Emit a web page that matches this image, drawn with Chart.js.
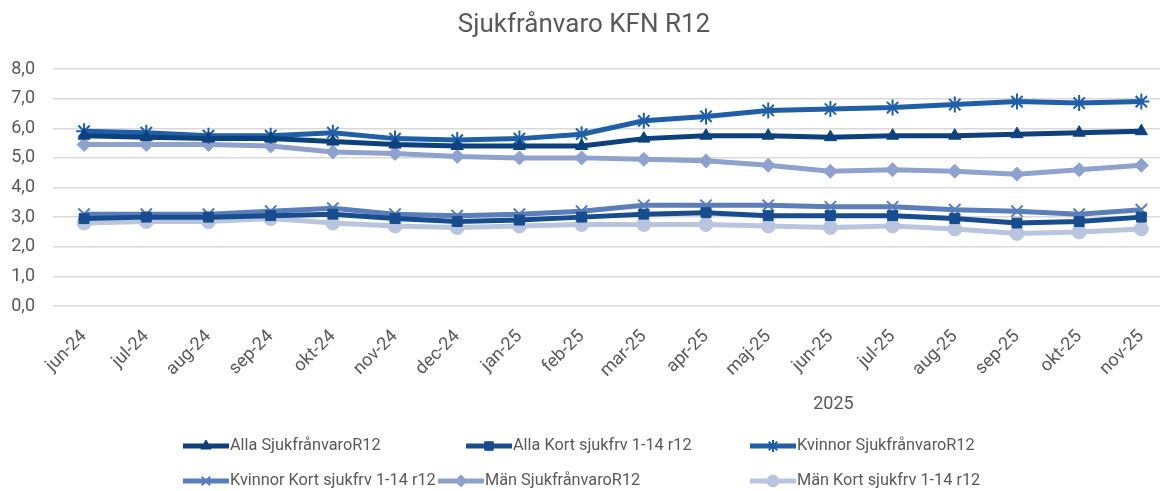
<!DOCTYPE html>
<html lang="sv">
<head>
<meta charset="UTF-8">
<title>Sjukfrånvaro KFN R12</title>
<style>
  html, body { margin: 0; padding: 0; background: #fff; }
  #wrap { width: 1170px; height: 491px; }
</style>
</head>
<body>
<div id="wrap"><canvas id="chart"></canvas></div>
<script src="https://cdn.jsdelivr.net/npm/chart.js"></script>
<script>
const months = ['jun-24','jul-24','aug-24','sep-24','okt-24','nov-24','dec-24','jan-25','feb-25',
  'mar-25','apr-25','maj-25','jun-25','jul-25','aug-25','sep-25','okt-25','nov-25'];
const yearLabel = '2025';

const allaSjuk     = [5.75,5.7,5.65,5.65,5.55,5.45,5.4,5.4,5.4,5.65,5.75,5.75,5.7,5.75,5.75,5.8,5.85,5.9];
const allaKort     = [2.95,3.0,3.0,3.05,3.1,2.95,2.85,2.9,3.0,3.1,3.15,3.05,3.05,3.05,2.95,2.8,2.85,3.0];
const kvinnorSjuk  = [5.9,5.85,5.75,5.75,5.85,5.65,5.6,5.65,5.8,6.25,6.4,6.6,6.65,6.7,6.8,6.9,6.85,6.9];
const kvinnorKort  = [3.1,3.1,3.1,3.2,3.3,3.1,3.05,3.1,3.2,3.4,3.4,3.4,3.35,3.35,3.25,3.2,3.1,3.25];
const manSjuk      = [5.45,5.45,5.45,5.4,5.2,5.15,5.05,5.0,5.0,4.95,4.9,4.75,4.55,4.6,4.55,4.45,4.6,4.75];
const manKort      = [2.8,2.85,2.85,2.95,2.8,2.7,2.65,2.7,2.75,2.75,2.75,2.7,2.65,2.7,2.6,2.45,2.5,2.6];

const FONT = 'Roboto, "Liberation Sans", sans-serif';
const TEXT = '#595959';

function series(label, values, color, style, radius, pbw) {
  return {
    label,
    data: values.map((v, i) => ({ x: i, y: v })),
    borderColor: color,
    backgroundColor: color,
    pointBackgroundColor: color,
    pointBorderColor: color,
    borderWidth: 5,
    pointStyle: style,
    pointRadius: radius,
    pointBorderWidth: pbw,
    tension: 0
  };
}

// "2025" group label + Excel-style legend
const extras = {
  id: 'extras',
  afterDraw(chart) {
    const ctx = chart.ctx;
    const xs = chart.scales.x;
    ctx.save();
    ctx.textBaseline = 'middle';
    ctx.fillStyle = TEXT;
    ctx.textAlign = 'center';
    ctx.font = '18px ' + FONT;
    ctx.fillText(yearLabel, (xs.getPixelForValue(7) + xs.getPixelForValue(17)) / 2 + 3, 404);

    ctx.font = '16.3px ' + FONT;
    const slots = [[183,446],[466,446],[750,446],[183,481],[438,481],[750,481]];
    chart.data.datasets.forEach((ds, i) => {
      const [lx, ly] = slots[i];
      ctx.strokeStyle = ds.borderColor;
      ctx.fillStyle = ds.borderColor;
      ctx.lineWidth = 5;
      ctx.beginPath(); ctx.moveTo(lx, ly); ctx.lineTo(lx + 46, ly); ctx.stroke();
      ctx.lineWidth = ds.pointBorderWidth;
      Chart.helpers.drawPoint(ctx, { pointStyle: ds.pointStyle, radius: Math.min(ds.pointRadius, 6), borderWidth: ds.pointBorderWidth, rotation: 0 }, lx + 23, ly);
      ctx.fillStyle = TEXT;
      ctx.textAlign = 'left';
      ctx.fillText(ds.label, lx + 47, ly);
    });
    ctx.restore();
  }
};

new Chart(document.getElementById('chart'), {
  type: 'line',
  data: {
    datasets: [
      series('Alla SjukfrånvaroR12', allaSjuk, '#0d417e', 'triangle', 7, 1),
      series('Alla Kort sjukfrv 1-14 r12', allaKort, '#174d8e', 'rect', 7, 1),
      series('Kvinnor SjukfrånvaroR12', kvinnorSjuk, '#1f5fa8', 'star', 8, 2),
      series('Kvinnor Kort sjukfrv 1-14 r12', kvinnorKort, '#5a7dbb', 'crossRot', 8, 2),
      series('Män SjukfrånvaroR12', manSjuk, '#8ea2cd', 'rectRot', 7, 1),
      series('Män Kort sjukfrv 1-14 r12', manKort, '#b9c5df', 'circle', 7, 1)
    ]
  },
  options: {
    responsive: true,
    maintainAspectRatio: false,
    animation: false,
    layout: { padding: { left: 0, right: 2, top: 0, bottom: 0 } },
    plugins: {
      legend: { display: false },
      tooltip: { enabled: false },
      title: {
        display: true,
        text: 'Sjukfrånvaro KFN R12',
        color: TEXT,
        font: { family: FONT, size: 26, weight: 'normal' },
        padding: { top: 10, bottom: 27.8 }
      }
    },
    scales: {
      x: {
        type: 'linear',
        min: -0.5,
        max: 17.3,
        afterBuildTicks: s => { s.ticks = months.map((_, i) => ({ value: i })); },
        afterFit: s => { s.height = 185; },
        grid: { display: false },
        border: { display: false },
        ticks: {
          autoSkip: false,
          minRotation: 45,
          maxRotation: 45,
          padding: 12,
          color: TEXT,
          font: { family: FONT, size: 18 },
          callback: v => months[v]
        }
      },
      y: {
        min: 0,
        max: 8,
        afterFit: s => { s.width = 53; },
        border: { display: false },
        grid: { color: '#d9d9d9', lineWidth: 1.5, drawTicks: false },
        ticks: {
          stepSize: 1,
          padding: 18,
          color: TEXT,
          font: { family: FONT, size: 18 },
          callback: v => v.toFixed(1).replace('.', ',')
        }
      }
    }
  },
  plugins: [extras]
});
</script>
</body>
</html>
